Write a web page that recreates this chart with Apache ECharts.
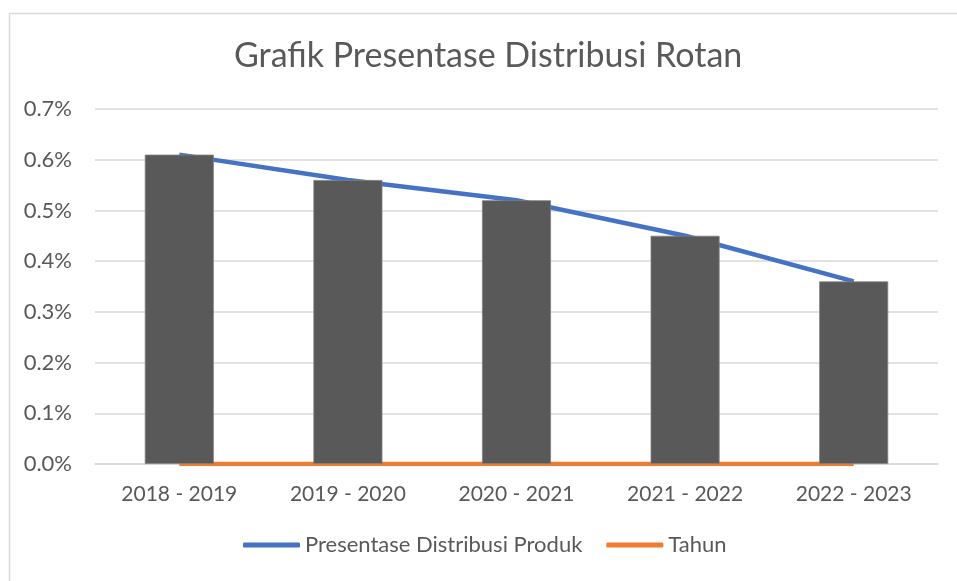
<!DOCTYPE html>
<html>
<head>
<meta charset="utf-8">
<script src="https://cdn.jsdelivr.net/npm/echarts@6/dist/echarts.min.js"></script>
<style>html,body{margin:0;padding:0;background:#fff;}#c{width:957px;height:581px;}</style>
</head>
<body>
<div id="c"></div>
<script>
const categories = ['2018 - 2019', '2019 - 2020', '2020 - 2021', '2021 - 2022', '2022 - 2023'];
const barValues = [0.61, 0.56, 0.52, 0.45, 0.36];
const distribusiValues = [0.61, 0.56, 0.52, 0.45, 0.36];
const tahunValues = [0, 0, 0, 0, 0];
const yTicks = { min: 0, max: 0.7, interval: 0.1 };

const FONT = 'Lato';
const TXT = '#595959';
const chart = echarts.init(document.getElementById('c'));
chart.setOption({
  animation: false,
  backgroundColor: '#fff',
  graphic: [{
    type: 'rect', left: 7, top: 11, z: -1,
    shape: { width: 1000, height: 1000 },
    style: { fill: 'none', stroke: '#d9d9d9', lineWidth: 1.5 }
  }],
  title: {
    text: 'Grafik Presentase Distribusi Rotan',
    left: 229, top: 34,
    textStyle: { fontFamily: FONT, fontSize: 34, fontWeight: 'normal', color: TXT }
  },
  grid: { left: 95, right: 19, top: 109, bottom: 117, containLabel: false },
  legend: {
    bottom: 20, left: 238,
    data: [
      { name: 'Presentase Distribusi Produk', icon: 'roundRect' },
      { name: 'Tahun', icon: 'roundRect' }
    ],
    itemWidth: 57, itemHeight: 5, itemGap: 24,
    textStyle: { fontFamily: FONT, fontSize: 22, color: TXT }
  },
  xAxis: {
    type: 'category', data: categories,
    axisLine: { show: true, lineStyle: { color: '#d9d9d9', width: 1.5 } },
    axisTick: { show: false },
    axisLabel: { fontFamily: FONT, fontSize: 21, color: TXT, margin: 20 }
  },
  yAxis: {
    type: 'value', min: yTicks.min, max: yTicks.max, interval: yTicks.interval,
    axisLine: { show: false }, axisTick: { show: false },
    splitLine: { lineStyle: { color: '#d9d9d9', width: 1.5 } },
    axisLabel: {
      fontFamily: FONT, fontSize: 22, color: TXT, margin: 23,
      formatter: v => v.toFixed(1) + '%'
    }
  },
  series: [
    {
      name: 'Presentase Distribusi Produk', type: 'line', data: distribusiValues,
      symbol: 'none', z: 2,
      lineStyle: { color: '#4472C4', width: 4.5 }, itemStyle: { color: '#4472C4' }
    },
    {
      name: 'Tahun', type: 'line', data: tahunValues,
      symbol: 'none', z: 2,
      lineStyle: { color: '#ED7D31', width: 4.5 }, itemStyle: { color: '#ED7D31' }
    },
    {
      name: 'Bar', type: 'bar', data: barValues, barWidth: 69, z: 3,
      itemStyle: { color: '#595959', borderColor: '#7f7f7f', borderWidth: 0.8 }
    }
  ]
});
</script>
</body>
</html>
